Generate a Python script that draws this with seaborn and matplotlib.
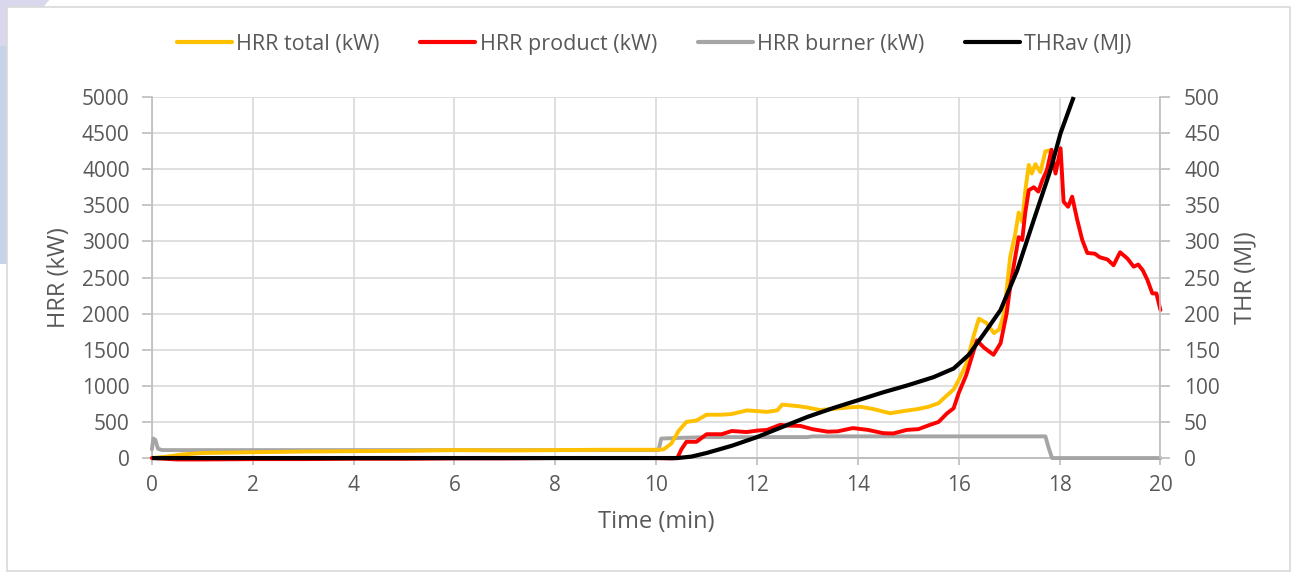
import matplotlib
matplotlib.use("Agg")
import matplotlib.pyplot as plt
import seaborn as sns
import numpy as np
from matplotlib.patches import Polygon, Rectangle
from matplotlib.lines import Line2D

# ---------------- data ----------------
t_total = [0, 0.3, 0.6, 1, 2, 3, 4, 5, 6, 7, 8, 9, 10, 10.15, 10.3, 10.45, 10.6, 10.8, 11.0,
           11.3, 11.5, 11.8, 12.0, 12.2, 12.4, 12.5, 12.8, 13.0, 13.25, 13.5, 13.8, 14.05, 14.3,
           14.64, 14.9, 15.2, 15.4, 15.6, 15.77, 15.9, 16.0, 16.15, 16.3, 16.4, 16.55, 16.7,
           16.8, 16.9, 17.02, 17.12, 17.19, 17.26, 17.32, 17.39, 17.45, 17.52, 17.62, 17.72,
           17.82, 17.86]
hrr_total = [0, 20, 50, 70, 80, 90, 95, 100, 110, 105, 110, 115, 115, 120, 200, 380, 500, 520,
             600, 600, 610, 660, 650, 640, 660, 740, 720, 700, 665, 680, 700, 710, 680, 620, 650,
             680, 710, 760, 870, 950, 1080, 1300, 1700, 1930, 1870, 1730, 1780, 2000, 2780, 3100,
             3400, 3270, 3700, 4060, 3940, 4070, 3960, 4250, 4260, 4200]

t_product = [0, 0.5, 1, 2, 3, 4, 5, 6, 7, 8, 9, 10, 10.3, 10.42, 10.5, 10.6, 10.8, 11.0, 11.3,
             11.5, 11.8, 12.0, 12.2, 12.46, 12.6, 12.86, 13.1, 13.4, 13.6, 13.9, 14.2, 14.5,
             14.7, 14.97, 15.2, 15.43, 15.6, 15.77, 15.9, 16.0, 16.15, 16.36, 16.5, 16.69, 16.83,
             16.95, 17.02, 17.12, 17.19, 17.26, 17.32, 17.39, 17.49, 17.58, 17.66, 17.75, 17.84,
             17.92, 18.02, 18.08, 18.17, 18.25, 18.35, 18.45, 18.55, 18.7, 18.8, 18.95, 19.07,
             19.2, 19.35, 19.47, 19.56, 19.65, 19.74, 19.84, 19.92, 20.0]
hrr_product = [0, -20, -20, -15, -15, -10, -10, -5, -5, 0, 0, 0, -5, 0, 120, 225, 225, 330, 330,
               375, 360, 380, 390, 460, 450, 445, 400, 365, 370, 415, 390, 345, 340, 390, 400,
               460, 500, 620, 690, 900, 1150, 1630, 1530, 1430, 1590, 2000, 2370, 2780, 3060,
               3020, 3400, 3710, 3750, 3690, 3850, 3990, 4270, 3940, 4290, 3550, 3480, 3620,
               3300, 3020, 2840, 2830, 2780, 2750, 2670, 2850, 2760, 2650, 2680, 2600, 2470,
               2280, 2280, 2050]

t_burner = [0, 0.03, 0.07, 0.12, 0.2, 10.05, 10.1, 10.5, 11.0, 13.0, 13.1, 17.72, 17.78, 17.85, 20]
hrr_burner = [120, 270, 250, 130, 110, 110, 270, 280, 290, 290, 300, 300, 150, 0, 0]

t_thr = [0, 5, 10, 10.42, 10.7, 11.0, 11.5, 12.0, 12.5, 13.0, 13.5, 14.0, 14.5, 15.0, 15.5,
         15.9, 16.2, 16.5, 16.83, 17.16, 17.49, 17.82, 18.02, 18.28]
thr = [0, 0, 0, 0, 2, 7, 17, 29, 43, 57, 69, 80, 91, 101, 112, 124, 143, 172, 205, 260, 330,
       399, 450, 500]

labels = ["HRR total (kW)", "HRR product (kW)", "HRR burner (kW)", "THRav (MJ)"]
colors = ["#FFC000", "#FF0000", "#A5A5A5", "#000000"]

# ---------------- style ----------------
sns.set_theme(style="white")
plt.rcParams['font.family'] = ['Open Sans', 'DejaVu Sans']
txt = "#595959"
grid_c = "#D9D9D9"
axis_c = "#BFBFBF"

fig = plt.figure(figsize=(12.98, 5.74), dpi=100)
fig.patch.set_facecolor("white")

# decorative background shapes + frame (behind the axes)
fig.patches.append(Polygon([[0, 1], [0.038, 1], [0, 0.90]], closed=True,
                           transform=fig.transFigure, facecolor="#D9D7EC", edgecolor="none", zorder=-3))
fig.patches.append(Rectangle((0, 0.54), 0.006, 0.38, transform=fig.transFigure,
                             facecolor="#C8D2EA", edgecolor="none", zorder=-3))
fig.patches.append(Rectangle((0.0055, 0.006), 0.988, 0.982, transform=fig.transFigure,
                             facecolor="white", edgecolor="#D9D9D9", linewidth=1.2, zorder=-2))

ax = fig.add_axes([0.117, 0.202, 0.777, 0.629])
ax.set_facecolor("none")
ax2 = ax.twinx()
ax2.set_facecolor("none")

lw = 2.8
sns.lineplot(x=t_burner, y=hrr_burner, ax=ax, color=colors[2], linewidth=lw, zorder=3, clip_on=False)
sns.lineplot(x=t_total, y=hrr_total, ax=ax, color=colors[0], linewidth=lw, zorder=4, clip_on=False)
sns.lineplot(x=t_product, y=hrr_product, ax=ax, color=colors[1], linewidth=lw, zorder=5, clip_on=False)
sns.lineplot(x=t_thr, y=thr, ax=ax2, color=colors[3], linewidth=lw + 0.2, zorder=6, clip_on=False,
             solid_capstyle="butt")

ax.set_xlim(0, 20)
ax.set_ylim(0, 5000)
ax2.set_ylim(0, 500)
ax.set_xticks(np.arange(0, 21, 2))
ax.set_yticks(np.arange(0, 5001, 500))
ax2.set_yticks(np.arange(0, 501, 50))

ax.grid(True, color=grid_c, linewidth=1.2)
ax.set_axisbelow(True)
for a in (ax, ax2):
    for s in a.spines.values():
        s.set_visible(False)
ax.spines['left'].set_visible(True)
ax.spines['left'].set_color(axis_c)
ax.spines['bottom'].set_visible(True)
ax.spines['bottom'].set_color(axis_c)
ax.spines['bottom'].set_linewidth(1.4)
ax2.spines['right'].set_visible(True)
ax2.spines['right'].set_color(axis_c)

fs = 15
ax.tick_params(axis='y', which='major', length=7, color=axis_c, labelsize=fs, labelcolor=txt, pad=9, left=True)
ax.tick_params(axis='x', which='major', length=5, color=axis_c, labelsize=fs, labelcolor=txt, pad=7, bottom=True)
ax2.tick_params(axis='y', which='major', length=7, color=axis_c, labelsize=fs, labelcolor=txt, pad=10, right=True)

ax.set_xlabel("Time (min)", fontsize=17, color=txt, labelpad=10)
ax.set_ylabel("HRR (kW)", fontsize=17, color=txt, labelpad=8)
ax2.set_ylabel("THR (MJ)", fontsize=17, color=txt, labelpad=10)

handles = [Line2D([0], [0], color=c, linewidth=3) for c in colors]
fig.legend(handles, labels, loc="center", bbox_to_anchor=(0.504, 0.923), ncol=4, frameon=False,
           fontsize=15.5, labelcolor=txt, handlelength=2.55, handletextpad=0.2, columnspacing=1.9)

fig.savefig("out.png", dpi=100, facecolor="white")
